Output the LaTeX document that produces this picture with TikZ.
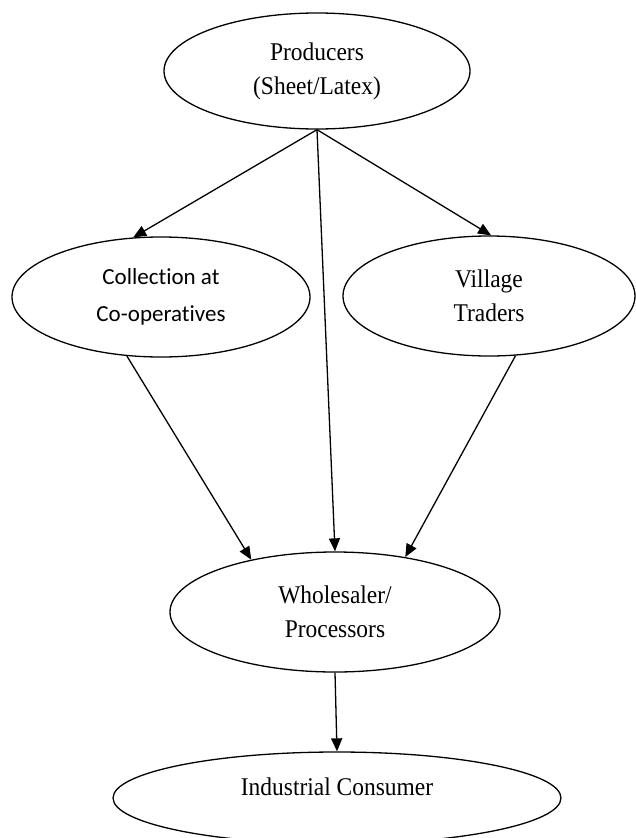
\documentclass[tikz,border=0pt]{standalone}
\usepackage{fontspec}
\setmainfont{Liberation Serif}[FakeStretch=0.92]
\newfontfamily\calibri{Carlito}[Ligatures=NoCommon]
\usetikzlibrary{shapes.geometric,arrows.meta}

\begin{document}
\begin{tikzpicture}[x=1pt, y=-1pt,
    oval/.style={draw, ellipse, line width=1.3pt, inner sep=0pt, align=center, font=\fontsize{25.5}{34}\selectfont},
    flow/.style={line width=1.3pt, -{Triangle[length=13pt,width=11pt]}}]
    \useasboundingbox (0,0) rectangle (636,838);
    %\node[] at (318,20) {marketing channel};
    \node[oval, minimum width=306, minimum height=116] (prod)  at (317,71)  {Producers\\(Sheet/Latex)};
    \node[oval, minimum width=298, minimum height=120, font=\calibri\fontsize{23}{37}\selectfont] (coll) at (161,297) {Collection at\\Co-operatives};
    \node[oval, minimum width=292, minimum height=120] (vill)  at (489,296) {Village\\Traders};
    \node[oval, minimum width=330, minimum height=120] (whole) at (335,612) {Wholesaler/\\Processors};
    \node[oval, minimum width=448, minimum height=92]  (cons)  at (337,798) {\raisebox{3pt}[0pt][0pt]{Industrial Consumer}};
    \draw[flow] (prod.south) -- (coll.115);
    \draw[flow] (prod.south) -- (whole.north);
    \draw[flow] (prod.south) -- (vill.88);
    \draw[flow] (coll.240) -- (whole.148);
    \draw[flow] (vill.294) -- (whole.38);
    \draw[flow] (whole.south) -- (cons.north);
\end{tikzpicture}
\end{document}
